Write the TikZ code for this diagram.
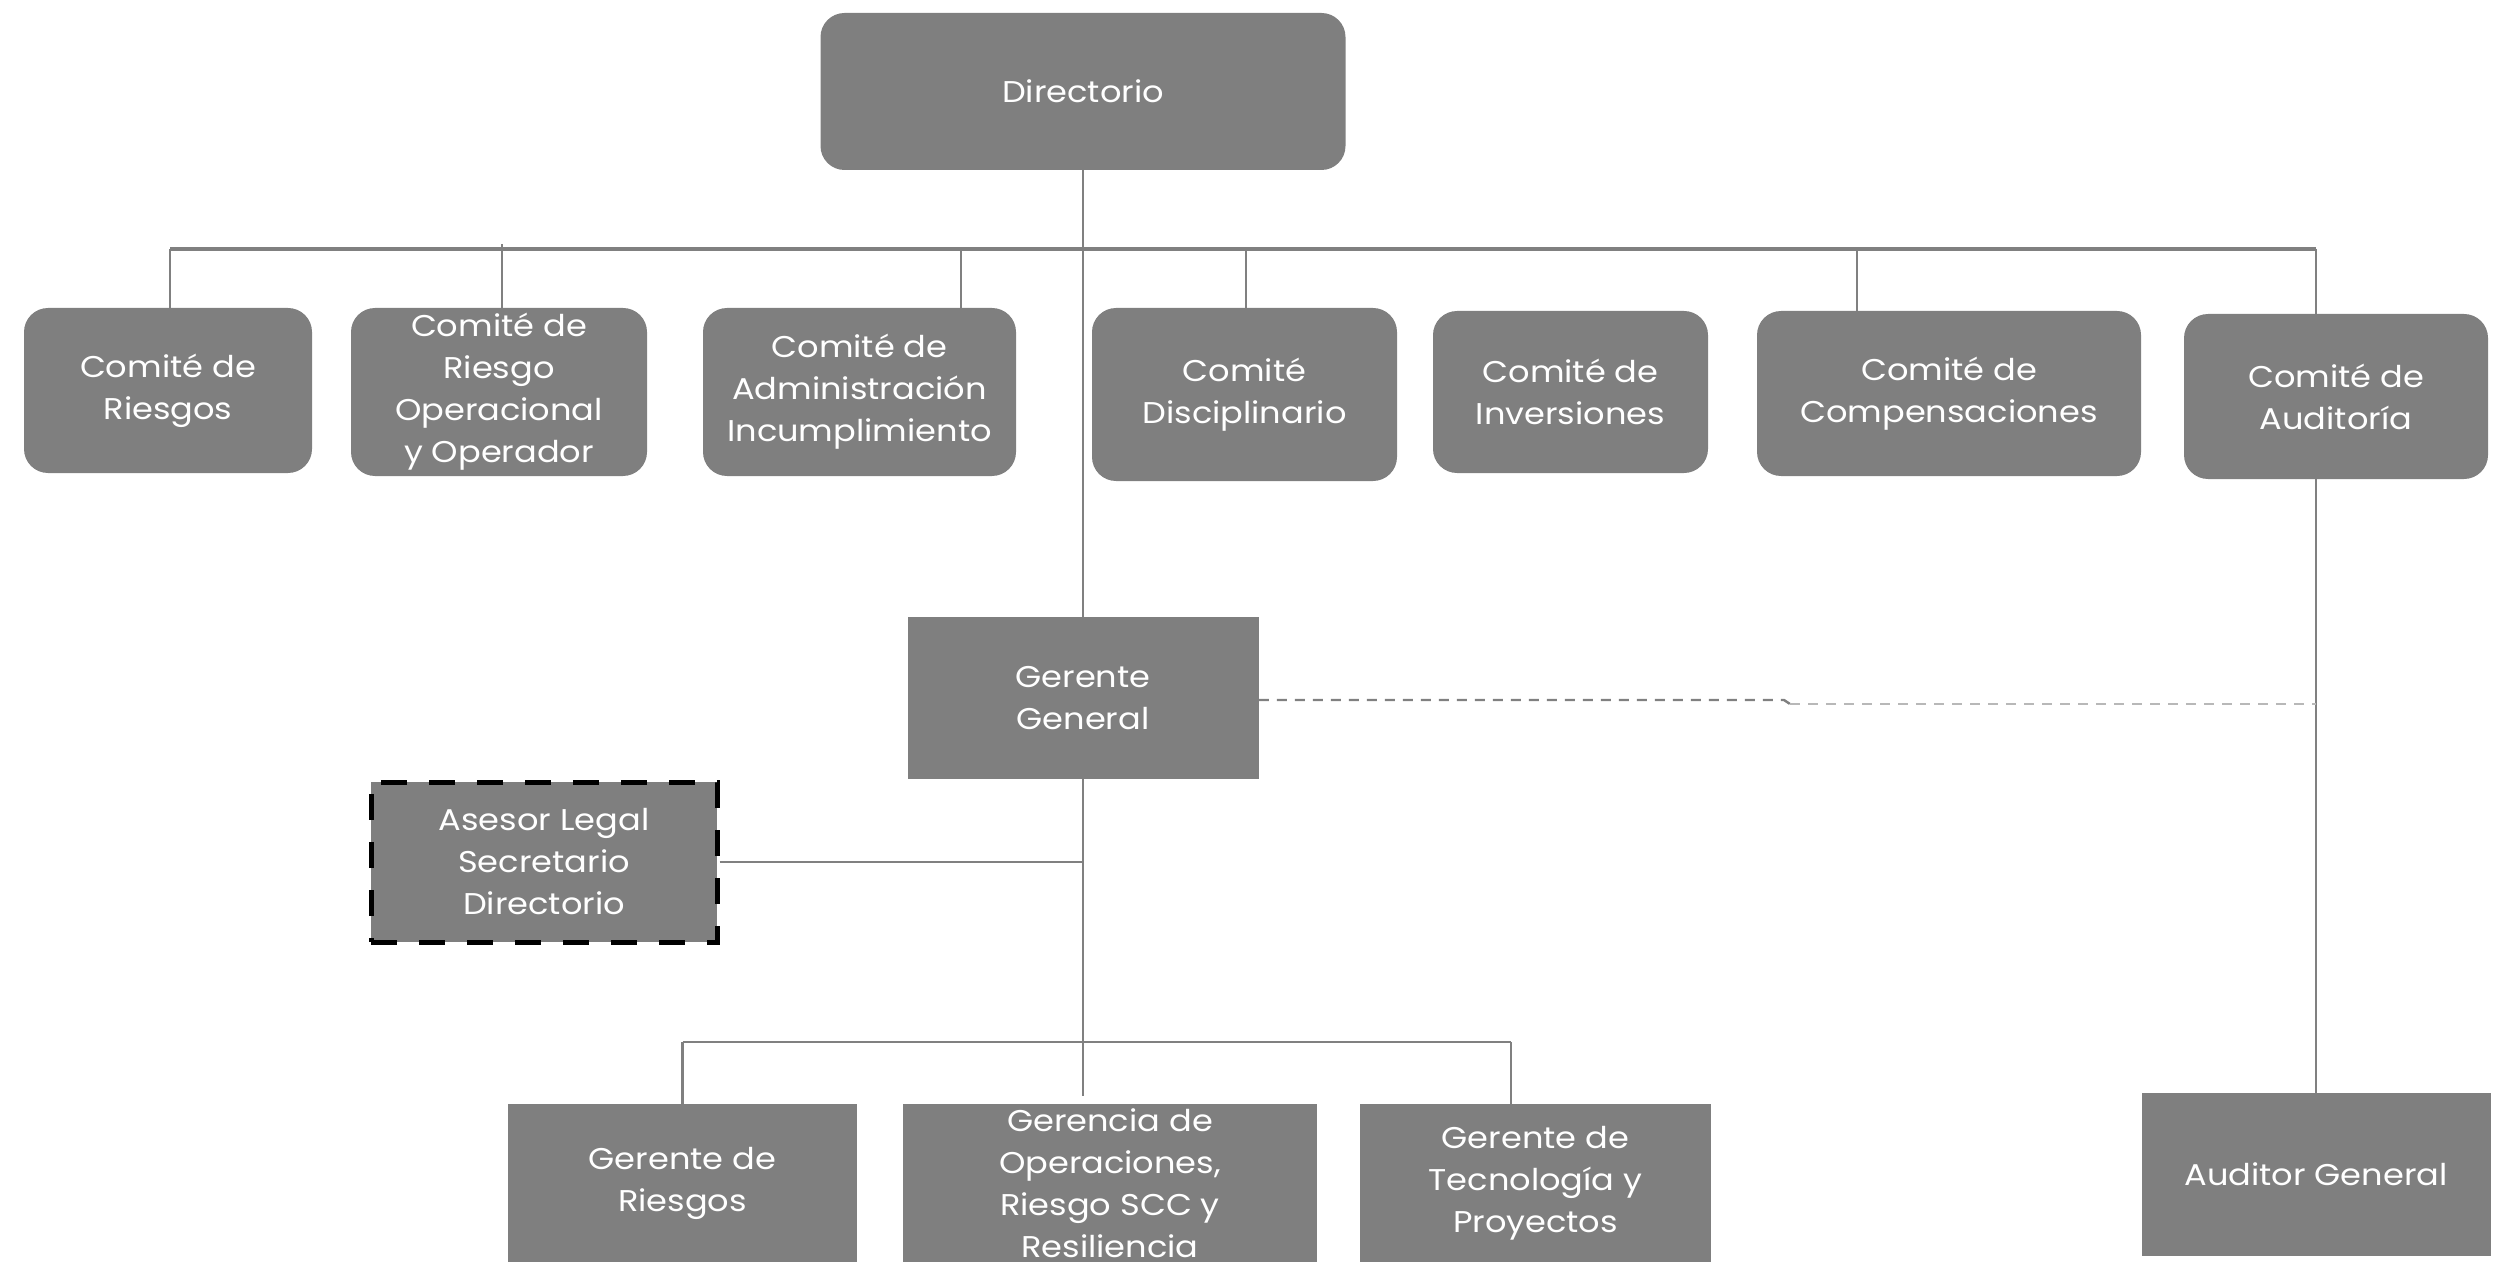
\documentclass[tikz,border=0pt]{standalone}
\usepackage{fontspec}
\setmainfont{Poppins}[FakeStretch=1.12]
\definecolor{boxgray}{HTML}{7F7F7F}
\definecolor{linegray}{HTML}{808080}
\definecolor{lightdash}{HTML}{B8B8B8}
\begin{document}
\begin{tikzpicture}[x=0.5pt,y=-0.5pt,
  base/.style={fill=boxgray, text=white, align=center, inner sep=0pt, font=\fontsize{15}{21}\selectfont},
  rbox/.style={base, rounded corners=12pt},
  sbox/.style={base},
  dashbox/.style={base, draw=black, line width=2.5pt, dash pattern=on 13pt off 11pt},
  conn/.style={draw=linegray, line width=1.2pt},
  busline/.style={draw=linegray, line width=1.6pt},
  dotconn/.style={draw=linegray, line width=1.2pt, dash pattern=on 5pt off 4pt},
  lightconn/.style={draw=lightdash, line width=1.2pt, dash pattern=on 5pt off 4pt},
]
\useasboundingbox (0,0) rectangle (2494,1262);
\clip (0,0) rectangle (2494,1262);

% top
\node[rbox, minimum width=262.5pt, minimum height=78.5pt] (dir) at (1083,91.5) {Directorio};

% committees
\node[rbox, minimum width=144pt, minimum height=82.5pt] (c1) at (168,390.5) {Comité de\\Riesgos};
\node[rbox, minimum width=148pt, minimum height=84pt] (c2) at (499,392) {Comité de\\Riesgo\\Operacional\\y Operador};
\node[rbox, minimum width=156.5pt, minimum height=84pt] (c3) at (859.5,392) {Comité de\\Administración\\Incumplimiento};
\node[rbox, minimum width=152.5pt, minimum height=86.5pt] (c4) at (1244.5,394.5) {Comité\\Disciplinario};
\node[rbox, minimum width=137.5pt, minimum height=81pt] (c5) at (1570.5,392) {Comité de\\Inversiones};
\node[rbox, minimum width=192pt, minimum height=82.5pt] (c6) at (1949,393.5) {Comité de\\Compensaciones};
\node[rbox, minimum width=152pt, minimum height=82.5pt] (c7) at (2336,396.5) {Comité de\\Auditoría};

% managers
\node[sbox, minimum width=175.5pt, minimum height=81pt] (gg) at (1083,698) {Gerente\\General};
\node[dashbox, minimum width=173pt, minimum height=80pt] (asesor) at (544,862) {Asesor Legal\\Secretario\\Directorio};
\node[sbox, minimum width=174.5pt, minimum height=79pt] (l1) at (682.5,1183) {Gerente de\\Riesgos};
\node[sbox, minimum width=207pt, minimum height=79pt] (l2) at (1110,1183) {Gerencia de\\Operaciones,\\Riesgo SCC y\\Resiliencia};
\node[sbox, minimum width=175.5pt, minimum height=79pt] (l3) at (1535.5,1183) {Gerente de\\Tecnología y\\Proyectos};
\node[sbox, minimum width=174.5pt, minimum height=81.5pt] (aud) at (2316,1174.5) {Auditor General};

% bus coordinates
\coordinate (b1) at (170,249);
\coordinate (b2) at (502,249);
\coordinate (b3) at (961,249);
\coordinate (b4) at (1246,249);
\coordinate (b6) at (1857,249);
\coordinate (b7) at (2316,249);
\coordinate (lb1) at (682.5,1042);
\coordinate (lb3) at (1511,1042);
\coordinate (jog1) at (1784,700);
\coordinate (jog2) at (1790,704);

% connectors
\draw[conn] (dir.south) -- (gg.north);
\draw[busline] (b1) -- (b7);
\draw[conn] (b1) -- (b1 |- c1.north);
\draw[conn] (b2) ++(0,-5) -- (b2 |- c2.north);
\draw[conn] (b3) -- (b3 |- c3.north);
\draw[conn] (b4) -- (b4 |- c4.north);
\draw[conn] (b6) -- (b6 |- c6.north);
\draw[conn] (b7) -- (b7 |- c7.north);
\draw[conn] (b7 |- c7.south) -- (aud.north);

\draw[conn] (asesor.east) -- (asesor.east -| gg.south);
\draw[conn, shorten >=4pt] (gg.south) -- (gg.south |- l2.north);
\draw[conn] (lb1) -- (lb3);
\draw[conn] (lb1) -- (l1.north);
\draw[conn] (lb3) -- (lb3 |- l3.north);

\draw[dotconn] (jog1 -| gg.east) -- (jog1) -- (jog2);
\draw[lightconn] (jog2) -- (jog2 -| aud.north);
\end{tikzpicture}
\end{document}
